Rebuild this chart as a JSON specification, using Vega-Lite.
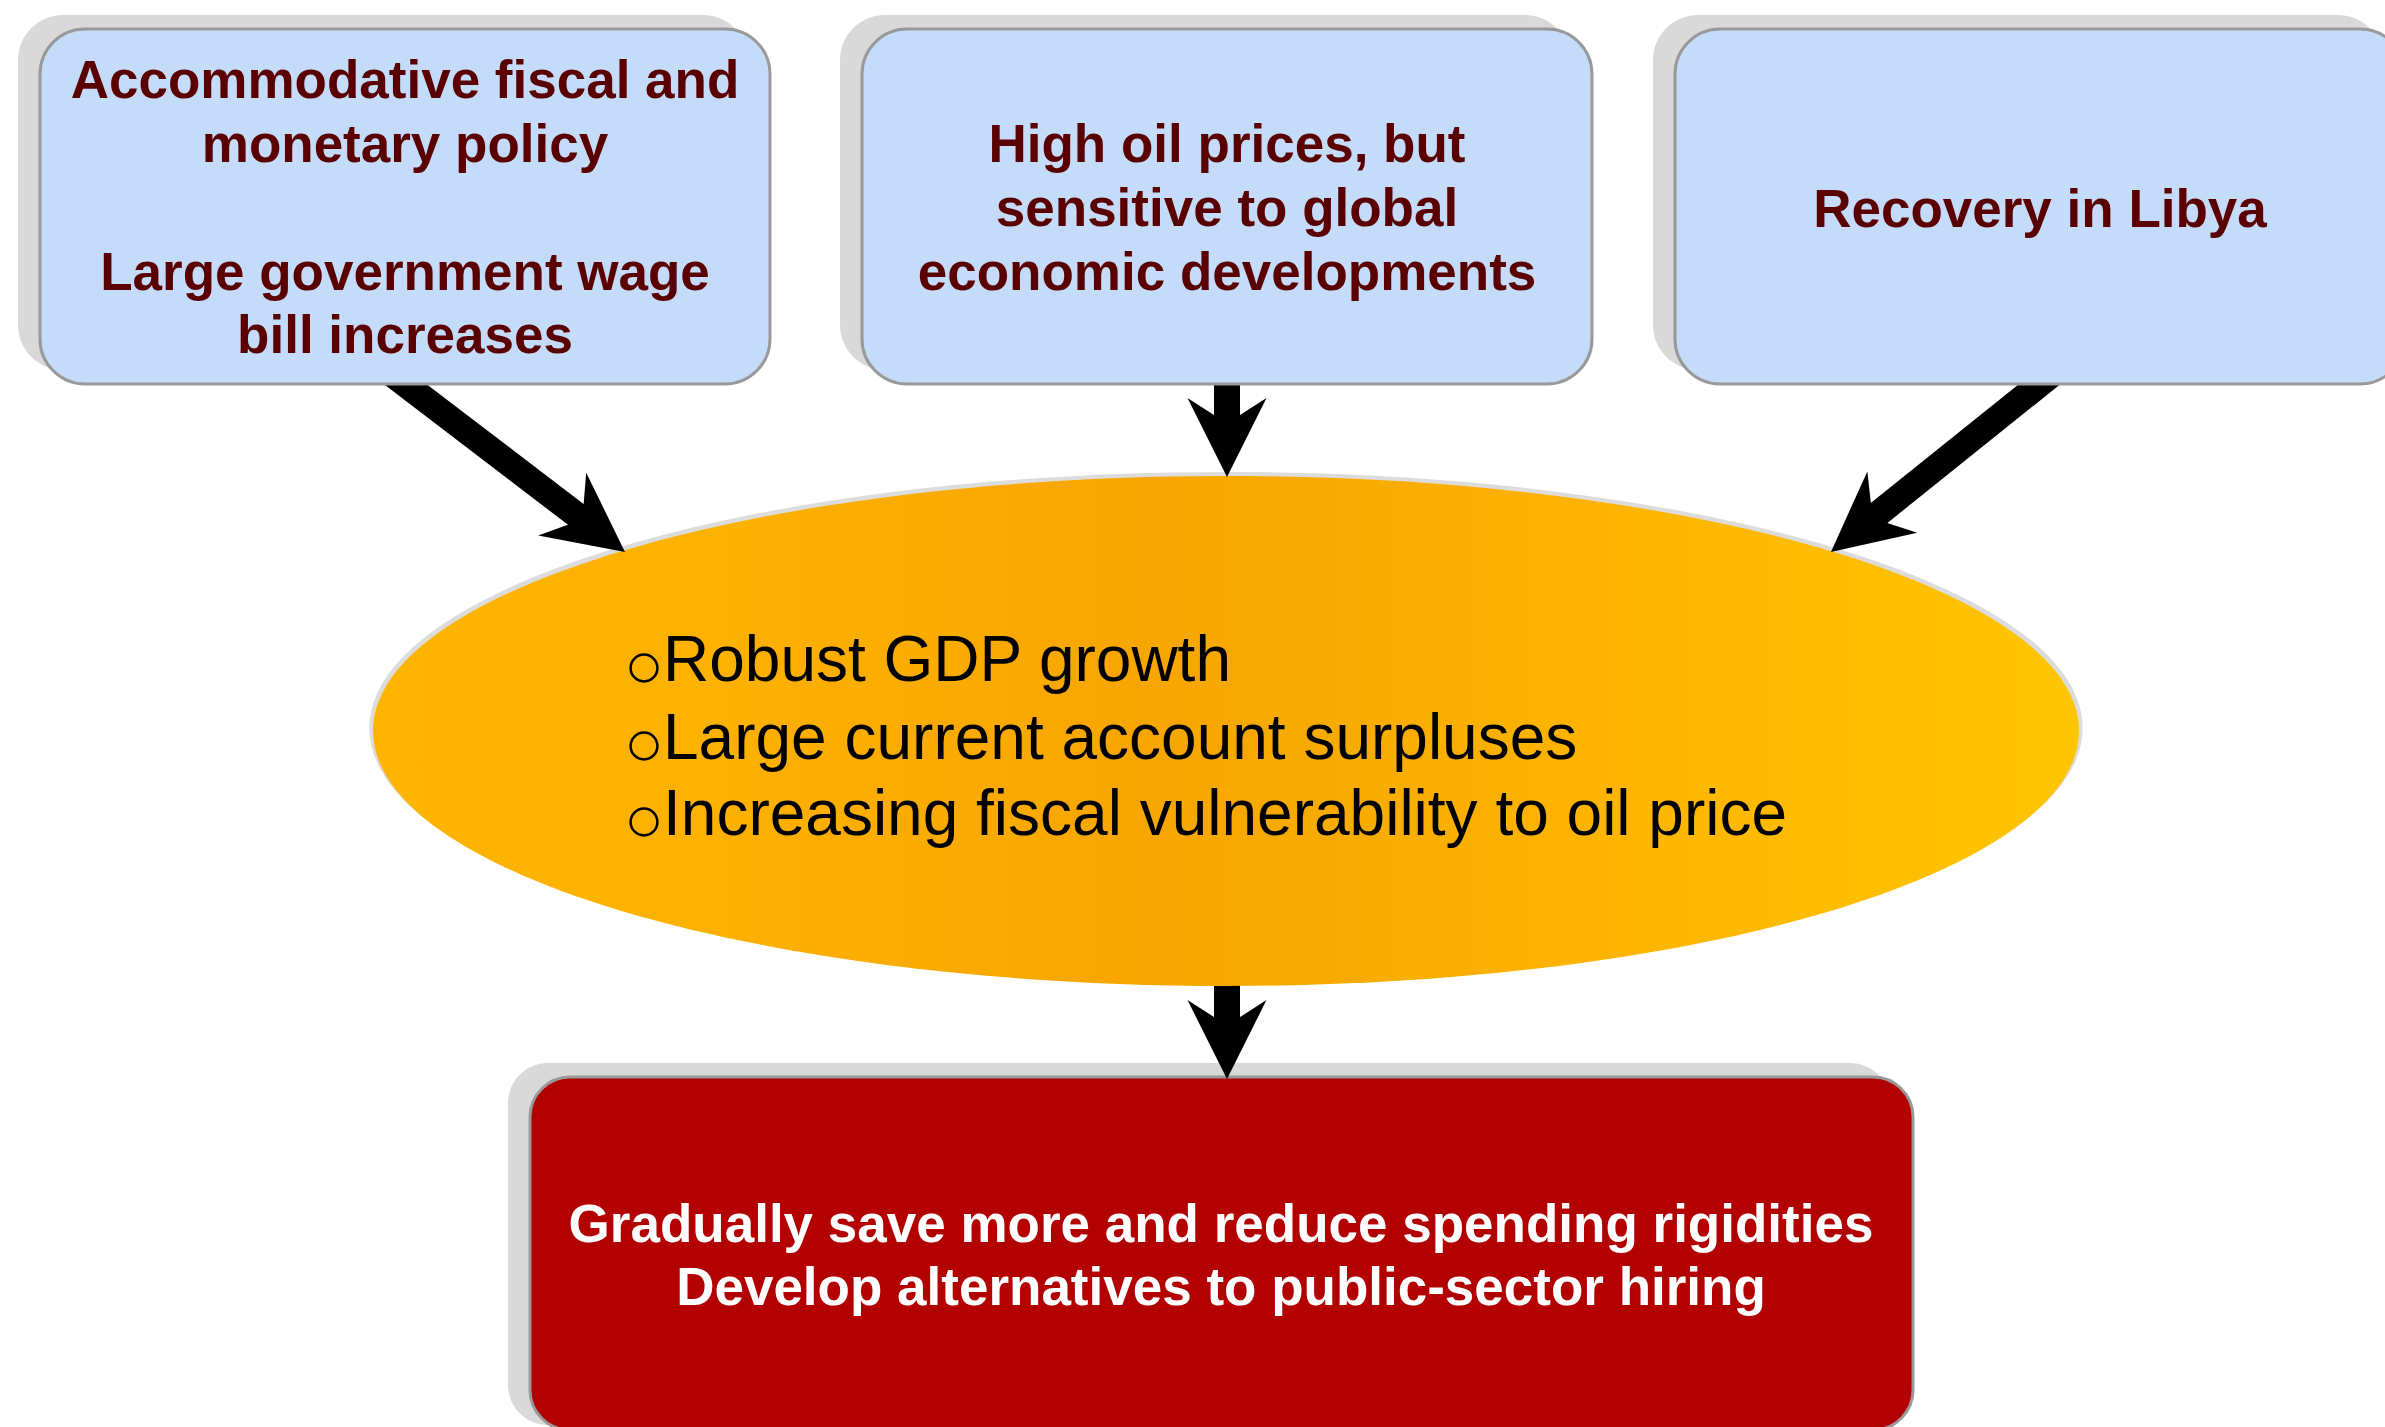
{
  "$schema": "https://vega.github.io/schema/vega-lite/v6.json",
  "width": 2385,
  "height": 1427,
  "padding": 0,
  "autosize": {"type": "fit", "contains": "padding"},
  "background": "white",
  "config": {"view": {"stroke": null}},
  "datasets": {
    "stems": [
      {"x": 384, "y": 368, "x2": 593.6, "y2": 528},
      {"x": 1227, "y": 370, "x2": 1227, "y2": 437.5},
      {"x": 2061, "y": 367, "x2": 1861.6, "y2": 527},
      {"x": 1227, "y": 975, "x2": 1227, "y2": 1039.5}
    ],
    "heads": [
      {"x": 593.6, "y": 528, "angle": 127.4},
      {"x": 1227, "y": 437.5, "angle": 180},
      {"x": 1861.6, "y": 527, "angle": 230.9},
      {"x": 1227, "y": 1039.5, "angle": 180}
    ],
    "blueShadows": [
      {"x": 18, "x2": 748, "y": 15, "y2": 370},
      {"x": 840, "x2": 1570, "y": 15, "y2": 370},
      {"x": 1653, "x2": 2383, "y": 15, "y2": 370}
    ],
    "blueBoxes": [
      {"x": 40, "x2": 770, "y": 29, "y2": 384},
      {"x": 862, "x2": 1592, "y": 29, "y2": 384},
      {"x": 1675, "x2": 2405, "y": 29, "y2": 384}
    ],
    "redShadow": [{"x": 508, "x2": 1890, "y": 1063, "y2": 1425}],
    "redBox": [{"x": 530, "x2": 1913, "y": 1077, "y2": 1430}],
    "ellipse": [{"x": 1226, "y": 731}],
    "boxText": [
      {"x": 405, "y": 98, "text": "Accommodative fiscal and"},
      {"x": 405, "y": 162, "text": "monetary policy"},
      {"x": 405, "y": 290, "text": "Large government wage"},
      {"x": 405, "y": 353, "text": "bill increases"},
      {"x": 1227, "y": 162, "text": "High oil prices, but"},
      {"x": 1227, "y": 226, "text": "sensitive to global"},
      {"x": 1227, "y": 290, "text": "economic developments"},
      {"x": 2040, "y": 227, "text": "Recovery in Libya"}
    ],
    "redText": [
      {"x": 1221, "y": 1242, "text": "Gradually save more and reduce spending rigidities"},
      {"x": 1221, "y": 1305, "text": "Develop alternatives to public-sector hiring"}
    ],
    "bulletText": [
      {"x": 663, "y": 681, "text": "Robust GDP growth"},
      {"x": 663, "y": 759, "text": "Large current account surpluses"},
      {"x": 663, "y": 835, "text": "Increasing fiscal vulnerability to oil price"}
    ],
    "bullets": [
      {"x": 644, "y": 668},
      {"x": 644, "y": 746},
      {"x": 644, "y": 822}
    ]
  },
  "layer": [
    {
      "data": {"name": "stems"},
      "mark": {"type": "rule", "color": "black", "strokeWidth": 26, "strokeCap": "butt"},
      "encoding": {
        "x": {"field": "x", "type": "quantitative", "scale": {"domain": [0, 2385], "nice": false, "zero": false}, "axis": null},
        "y": {"field": "y", "type": "quantitative", "scale": {"domain": [0, 1427], "reverse": true, "nice": false, "zero": false}, "axis": null},
        "x2": {"field": "x2"},
        "y2": {"field": "y2"}
      }
    },
    {
      "data": {"name": "blueShadows"},
      "mark": {"type": "rect", "color": "#d9d9d9", "cornerRadius": 45, "clip": true},
      "encoding": {
        "x": {"field": "x", "type": "quantitative"},
        "y": {"field": "y", "type": "quantitative"},
        "x2": {"field": "x2"},
        "y2": {"field": "y2"}
      }
    },
    {
      "data": {"name": "blueBoxes"},
      "mark": {"type": "rect", "fill": "#c4dbfa", "stroke": "#999999", "strokeWidth": 3, "cornerRadius": 45, "clip": true},
      "encoding": {
        "x": {"field": "x", "type": "quantitative"},
        "y": {"field": "y", "type": "quantitative"},
        "x2": {"field": "x2"},
        "y2": {"field": "y2"}
      }
    },
    {
      "data": {"name": "ellipse"},
      "mark": {
        "type": "point",
        "shape": "M-1,0C-1,-0.1651,-0.5523,-0.2989,0,-0.2989C0.5523,-0.2989,1,-0.1651,1,0C1,0.1651,0.5523,0.2989,0,0.2989C-0.5523,0.2989,-1,0.1651,-1,0Z",
        "size": 2935000,
        "filled": true,
        "fill": "#9a9a9a",
        "opacity": 0.35,
        "strokeWidth": 0,
        "yOffset": -3
      },
      "encoding": {
        "x": {"field": "x", "type": "quantitative"},
        "y": {"field": "y", "type": "quantitative"}
      }
    },
    {
      "data": {"name": "ellipse"},
      "mark": {
        "type": "point",
        "shape": "M-1,0C-1,-0.1651,-0.5523,-0.2989,0,-0.2989C0.5523,-0.2989,1,-0.1651,1,0C1,0.1651,0.5523,0.2989,0,0.2989C-0.5523,0.2989,-1,0.1651,-1,0Z",
        "size": 2910436,
        "filled": true,
        "opacity": 1,
        "strokeWidth": 0,
        "fill": {
          "gradient": "linear",
          "x1": 0, "y1": 0, "x2": 1, "y2": 0,
          "stops": [
            {"offset": 0, "color": "#fdb500"},
            {"offset": 0.2, "color": "#fdb100"},
            {"offset": 0.33, "color": "#faab00"},
            {"offset": 0.45, "color": "#f7a600"},
            {"offset": 0.55, "color": "#f6aa00"},
            {"offset": 0.7, "color": "#fdb300"},
            {"offset": 0.85, "color": "#ffbc00"},
            {"offset": 1, "color": "#ffc500"}
          ]
        }
      },
      "encoding": {
        "x": {"field": "x", "type": "quantitative"},
        "y": {"field": "y", "type": "quantitative"}
      }
    },
    {
      "data": {"name": "redShadow"},
      "mark": {"type": "rect", "color": "#d9d9d9", "cornerRadius": 40, "clip": true},
      "encoding": {
        "x": {"field": "x", "type": "quantitative"},
        "y": {"field": "y", "type": "quantitative"},
        "x2": {"field": "x2"},
        "y2": {"field": "y2"}
      }
    },
    {
      "data": {"name": "redBox"},
      "mark": {"type": "rect", "fill": "#b30000", "stroke": "#999999", "strokeWidth": 3, "cornerRadius": 40, "clip": true},
      "encoding": {
        "x": {"field": "x", "type": "quantitative"},
        "y": {"field": "y", "type": "quantitative"},
        "x2": {"field": "x2"},
        "y2": {"field": "y2"}
      }
    },
    {
      "data": {"name": "boxText"},
      "mark": {"type": "text", "font": "Liberation Sans", "fontWeight": "bold", "fontSize": 53, "color": "#5a0000", "align": "center", "baseline": "alphabetic"},
      "encoding": {
        "x": {"field": "x", "type": "quantitative"},
        "y": {"field": "y", "type": "quantitative"},
        "text": {"field": "text"}
      }
    },
    {
      "data": {"name": "redText"},
      "mark": {"type": "text", "font": "Liberation Sans", "fontWeight": "bold", "fontSize": 53, "color": "#ffffff", "align": "center", "baseline": "alphabetic"},
      "encoding": {
        "x": {"field": "x", "type": "quantitative"},
        "y": {"field": "y", "type": "quantitative"},
        "text": {"field": "text"}
      }
    },
    {
      "data": {"name": "bulletText"},
      "mark": {"type": "text", "font": "Liberation Sans", "fontSize": 64, "color": "#000000", "align": "left", "baseline": "alphabetic"},
      "encoding": {
        "x": {"field": "x", "type": "quantitative"},
        "y": {"field": "y", "type": "quantitative"},
        "text": {"field": "text"}
      }
    },
    {
      "data": {"name": "bullets"},
      "mark": {"type": "point", "shape": "circle", "size": 720, "filled": false, "stroke": "#000000", "strokeWidth": 2.5, "opacity": 1},
      "encoding": {
        "x": {"field": "x", "type": "quantitative"},
        "y": {"field": "y", "type": "quantitative"}
      }
    },
    {
      "data": {"name": "heads"},
      "mark": {"type": "point", "shape": "M0,-1L1,1L0.33,0.57L-0.33,0.57L-1,1Z", "size": 6241, "filled": true, "color": "#000000", "opacity": 1, "strokeWidth": 0},
      "encoding": {
        "x": {"field": "x", "type": "quantitative"},
        "y": {"field": "y", "type": "quantitative"},
        "angle": {"field": "angle", "type": "quantitative", "scale": null}
      }
    }
  ]
}
